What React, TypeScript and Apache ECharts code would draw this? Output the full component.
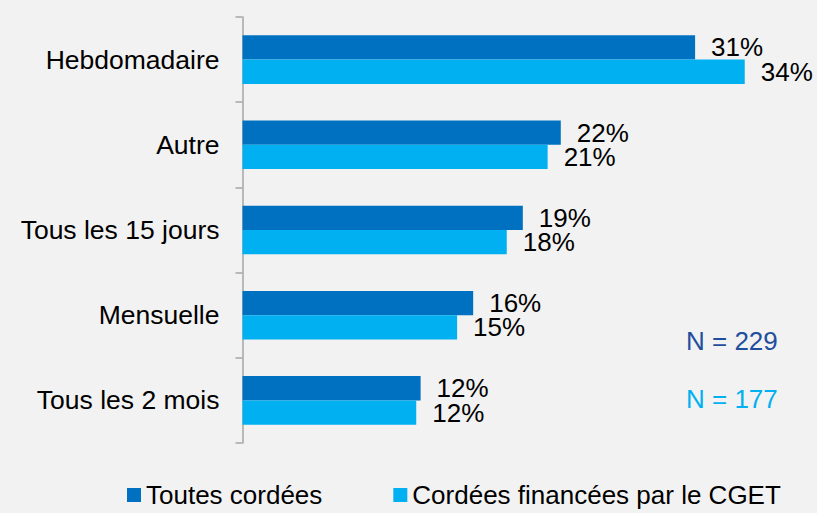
import React, { useEffect, useRef } from "react";
import * as echarts from "echarts";

const categories = ["Hebdomadaire", "Autre", "Tous les 15 jours", "Mensuelle", "Tous les 2 mois"];
const seriesNames = ["Toutes cordées", "Cordées financées par le CGET"];
const toutesValues = [31.0, 21.8, 19.2, 15.8, 12.2];
const cgetValues = [34.4, 20.9, 18.1, 14.7, 11.9];
const nLabels = ["N = 229", "N = 177"];

const FONT = "'Liberation Sans', Arial, sans-serif";

export default function App() {
  const ref = useRef<HTMLDivElement>(null);
  useEffect(() => {
    if (!ref.current) return;
    const chart = echarts.init(ref.current, null, { renderer: "svg" });
    const label = {
      show: true,
      position: "right",
      distance: 16,
      color: "#000",
      fontSize: 26,
      fontFamily: FONT,
      formatter: (p: any) => Math.round(p.value) + "%",
    };
    chart.setOption({
      animation: false,
      backgroundColor: "#F2F2F2",
      textStyle: { fontFamily: FONT },
      grid: { left: 242.5, top: 17, width: 525.6, bottom: 70, containLabel: false },
      xAxis: {
        type: "value",
        min: 0,
        max: 36,
        show: false,
      },
      yAxis: {
        type: "category",
        data: categories,
        inverse: true,
        axisLine: { show: true, lineStyle: { color: "#A6A6A6", width: 1.5 } },
        axisTick: { show: true, length: 7, interval: 0, lineStyle: { color: "#A6A6A6", width: 1.5 } },
        axisLabel: { color: "#000", fontSize: 26.5, fontFamily: FONT, margin: 23 },
        splitLine: { show: false },
      },
      legend: {
        left: 127,
        top: 482,
        padding: 0,
        icon: "rect",
        itemWidth: 14,
        itemHeight: 14,
        itemGap: 71,
        textStyle: { color: "#000", fontSize: 26, fontFamily: FONT },
        data: seriesNames,
      },
      series: [
        {
          name: seriesNames[0],
          type: "bar",
          data: toutesValues,
          barGap: "0%",
          barCategoryGap: "43%",
          itemStyle: { color: "#0070C0" },
          label,
        },
        {
          name: seriesNames[1],
          type: "bar",
          data: cgetValues,
          barGap: "0%",
          barCategoryGap: "43%",
          itemStyle: { color: "#00B0F0" },
          label,
        },
      ],
      graphic: [
        {
          type: "text",
          left: 686,
          top: 328,
          style: { text: nLabels[0], fill: "#1F4E9E", font: `26px ${FONT}` },
        },
        {
          type: "text",
          left: 686,
          top: 386,
          style: { text: nLabels[1], fill: "#00B0F0", font: `26px ${FONT}` },
        },
      ],
    });
    return () => chart.dispose();
  }, []);
  return (
    <div
      ref={ref}
      style={{ position: "fixed", left: 0, top: 0, width: 817, height: 513, background: "#F2F2F2" }}
    />
  );
}
